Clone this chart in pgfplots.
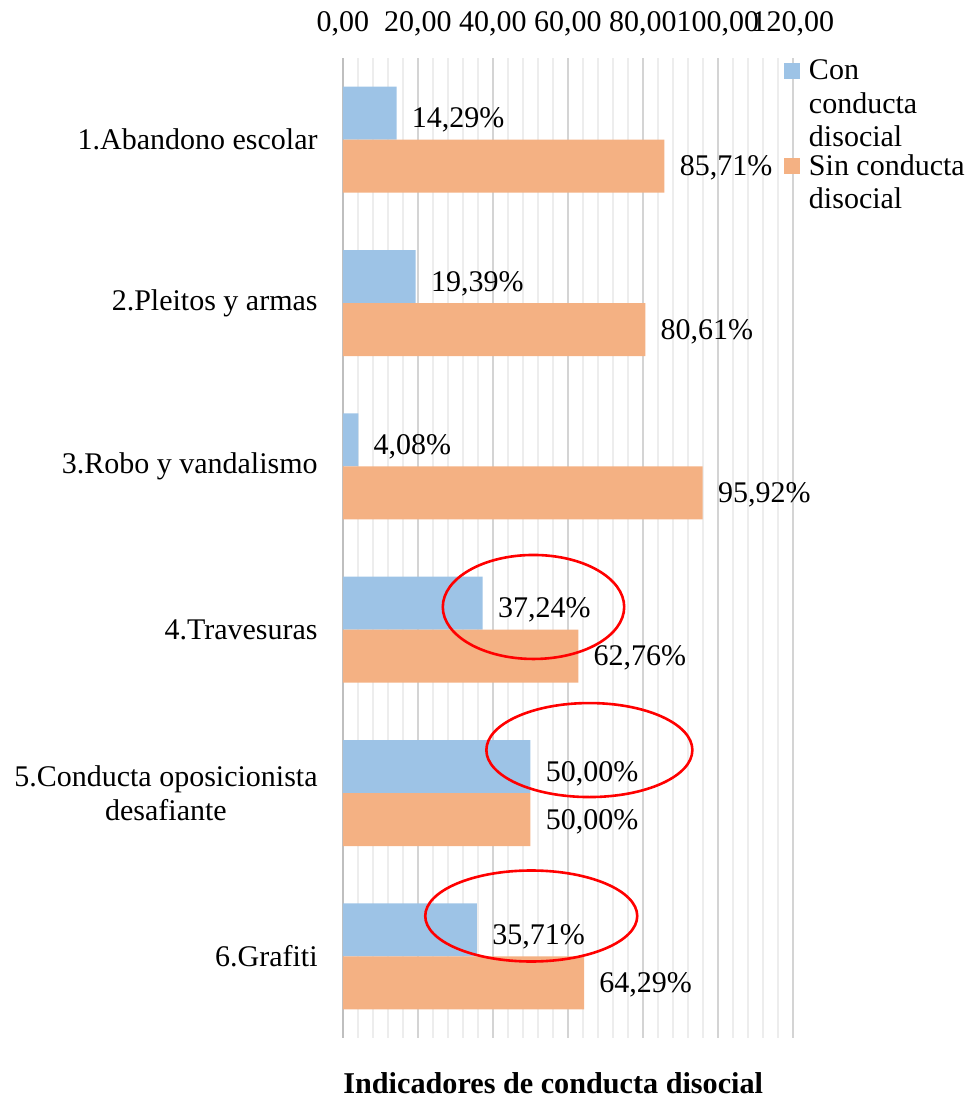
\documentclass[border=0pt]{standalone}
\usepackage{fontspec}
\setmainfont{Liberation Serif}
\usepackage{pgfplots}
\pgfplotsset{compat=1.18}
\definecolor{cblue}{HTML}{9DC3E6}
\definecolor{corange}{HTML}{F4B183}
\begin{document}
\fontsize{15}{16.75}\selectfont
\begin{tikzpicture}
\begin{axis}[
 scale only axis, width=225pt, height=490pt,
 xbar, bar width=26.5pt,
 xmin=0, xmax=120, ymin=-0.5, ymax=5.5, y dir=reverse,
 axis x line*=top, axis y line*=left,
 x axis line style={draw=none},
 y axis line style={draw=black!25, line width=1pt},
 xtick={0,20,...,120},
 xticklabels={{0,00},{20,00},{40,00},{60,00},{80,00},{100,00},{120,00}},
 minor x tick num=4,
 xmajorgrids, xminorgrids,
 major grid style={draw=black!17, line width=1pt},
 minor grid style={draw=black!7, line width=1pt},
 major tick length=0pt, minor tick length=0pt,
 xticklabel style={inner sep=0pt, yshift=10.5pt},
 ytick={0,...,5},
 yticklabels={{1.Abandono escolar},{2.Pleitos y armas},{3.Robo y vandalismo},{4.Travesuras},{5.Conducta oposicionista\\desafiante},{6.Grafiti}},
 yticklabel style={align=center, inner sep=0pt, xshift=-12.5pt},
 clip=false,
 nodes near coords={\pgfmathprintnumber[fixed, fixed zerofill, precision=2, use comma, assume math mode=true]{\pgfplotspointmeta}\%},
 nodes near coords style={anchor=west, inner sep=0pt, xshift=7.5pt},
 legend image code/.code={\fill[#1] (0pt,0.6pt) rectangle (8pt,8.6pt);},
 legend style={at={(1,1)}, anchor=north west, xshift=-4.5pt, yshift=1pt, draw=none, fill=none, inner sep=0pt, outer sep=0pt, row sep=31pt, column sep=2.5pt, cells={anchor=base west, inner sep=0pt}},
]
\addplot[fill=cblue, draw=none, bar shift=13.25pt, nodes near coords style={yshift=-3.5pt}] coordinates {(14.29,0) (19.39,1) (4.08,2) (37.24,3) (50,4) (35.71,5)};
\addlegendentry{\parbox[t]{85pt}{\fontsize{15}{16.75}\selectfont Con\\conducta\\disocial}}
\addplot[fill=corange, draw=none, bar shift=-13.25pt, nodes near coords style={yshift=-1pt}] coordinates {(85.71,0) (80.61,1) (95.92,2) (62.76,3) (50,4) (64.29,5)};
\addlegendentry{\parbox[t]{85pt}{\fontsize{15}{16.75}\selectfont Sin conducta\\disocial}}
\draw[red, line width=1.3pt] (axis cs:50.8,2.861) ellipse [x radius=45.35pt, y radius=26pt];
\draw[red, line width=1.3pt] (axis cs:65.7,3.737) ellipse [x radius=51.5pt, y radius=23.5pt];
\draw[red, line width=1.3pt] (axis cs:50.2,4.753) ellipse [x radius=53pt, y radius=22.75pt];
\node[anchor=base west, inner sep=0pt, font=\fontsize{15.1}{17}\selectfont\bfseries] at (axis description cs:0,0) [yshift=-27.5pt] {Indicadores de conducta disocial};
\coordinate (sw) at (axis description cs:0,0);
\end{axis}
\pgfresetboundingbox
\path[use as bounding box] (sw) ++(-171.5pt,-30.5pt) rectangle ++(484.5pt,549.5pt);
\end{tikzpicture}
\end{document}
